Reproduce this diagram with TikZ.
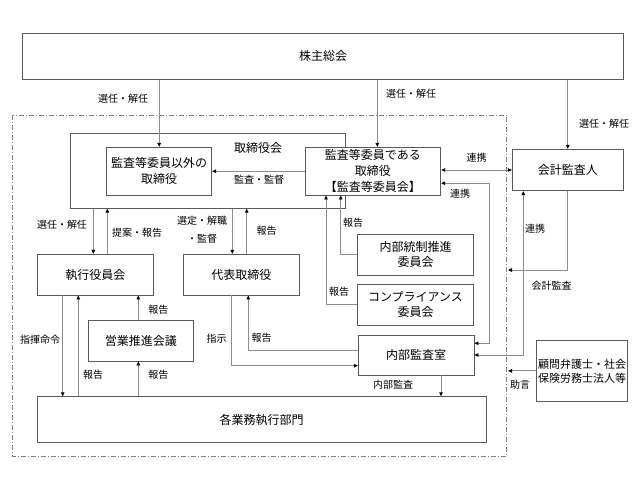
\documentclass[tikz,border=0pt]{standalone}
\usepackage{fontspec}
\setmainfont{Noto Sans CJK JP}
\usepackage{tikz}
\usetikzlibrary{arrows.meta}

\begin{document}
\begin{tikzpicture}[
        x=1pt, y=-1pt,
        box/.style={draw=black!65, line width=0.8pt, fill=white, inner sep=0pt, align=center,
            font=\fontsize{12}{16}\selectfont},
        lbl/.style={inner sep=0pt, font=\fontsize{10}{18}\selectfont, align=center},
        arr/.style={draw=black!45, line width=0.9pt, -{Triangle[length=4pt, width=3.5pt, color=black]}},
        darr/.style={draw=black!45, line width=0.9pt,
            {Triangle[length=4pt, width=3.5pt, color=black]}-{Triangle[length=4pt, width=3.5pt, color=black]}},
    ]
    \useasboundingbox (0,0) rectangle (640,480);

    \draw[black!50, line width=0.7pt, dash pattern=on 5pt off 2pt on 1pt off 2pt]
        (12.7,115) rectangle (506.7,456.7);

    \node[box, minimum width=600.6pt, minimum height=46pt] (sh) at (323,56.3) {株主総会};
    \node[box, minimum width=274.3pt, minimum height=75pt] (board) at (207.9,170.8) {};
    \node[inner sep=0pt, font=\fontsize{12}{16}\selectfont] (boardlbl) at (258,148) {取締役会};
    \node[box, minimum width=105pt, minimum height=47.7pt] (nonaud) at (159.2,171.2) {監査等委員以外の\\取締役};
    \node[box, minimum width=135.7pt, minimum height=47.7pt] (aud) at (372.9,171.2) {監査等委員である\\取締役\\【監査等委員会】};
    \node[box, minimum width=111pt, minimum height=41.4pt] (acc) at (567.8,170) {会計監査人};
    \node[box, minimum width=116pt, minimum height=40.7pt] (exec) at (95.3,274.7) {執行役員会};
    \node[box, minimum width=116pt, minimum height=40.7pt] (rep) at (241.3,274.7) {代表取締役};
    \node[box, minimum width=105pt, minimum height=40.3pt] (sales) at (140.8,340.8) {営業推進会議};
    \node[box, minimum width=115.6pt, minimum height=40.7pt, font=\fontsize{12}{15}\selectfont] (ic) at (415.5,254.7) {内部統制推進\\委員会};
    \node[box, minimum width=115.6pt, minimum height=40.7pt, font=\fontsize{12}{15}\selectfont] (comp) at (415.5,304.7) {コンプライアンス\\委員会};
    \node[box, minimum width=115.7pt, minimum height=40pt] (ia) at (416.2,355) {内部監査室};
    \node[box, minimum width=448.7pt, minimum height=45.6pt] (ops) at (261.7,419.5) {各業務執行部門};
    \node[box, minimum width=90.6pt, minimum height=60.3pt, font=\fontsize{11}{14}\selectfont] (adv) at (582,370.9) {顧問弁護士・社会\\保険労務士法人等};

    \coordinate (bndacc) at (508,270);

    \draw[arr] (sh.south -| nonaud.north) -- (nonaud.north);
    \draw[arr] ([xshift=4.4pt]aud.north |- sh.south) -- ([xshift=4.4pt]aud.north);
    \draw[arr] (sh.south -| acc.north) -- (acc.north);
    \draw[arr] (aud.west) -- (nonaud.east);
    \draw[darr] (aud.east |- acc.west) -- (acc.west);
    \draw[darr] ([yshift=-12pt]aud.east) -- ++(48.6,0) |- ([yshift=11.7pt]ia.east);
    \draw[darr] ([xshift=-44.5pt]acc.south) |- (ia.east);
    \draw[arr] (acc.south) |- (bndacc);
    \draw[arr] (adv.west) -- (adv.west -| bndacc);

    \draw[arr] ([xshift=-2pt]exec.north |- board.south) -- ([xshift=-2pt]exec.north);
    \draw[arr] ([xshift=12pt]exec.north) -- ([xshift=12pt]exec.north |- board.south);
    \draw[arr] ([xshift=-9pt]rep.north |- board.south) -- ([xshift=-9pt]rep.north);
    \draw[arr] ([xshift=5.4pt]rep.north) -- ([xshift=5.4pt]rep.north |- board.south);

    \draw[arr] ([xshift=-32.6pt]exec.south) -- ([xshift=-32.6pt]exec.south |- ops.north);
    \draw[arr] ([xshift=-17pt]exec.south |- ops.north) -- ([xshift=-17pt]exec.south);
    \draw[arr] ([xshift=-2.5pt]sales.north) -- ([xshift=-2.5pt]sales.north |- exec.south);
    \draw[arr] ([xshift=-2.5pt]sales.south |- ops.north) -- ([xshift=-2.5pt]sales.south);

    \draw[arr] ([xshift=-9.6pt]rep.south) |- ([yshift=-10.7pt]ia.west);
    \draw[arr] ([yshift=4.3pt]ia.west) -| ([xshift=7pt]rep.south);
    \draw[arr] (ic.west) -| ([xshift=-32.2pt]aud.south);
    \draw[arr] (comp.west) -| ([xshift=-46.9pt]aud.south);
    \draw[arr] ([xshift=24.8pt]ia.south) -- ([xshift=24.8pt]ia.south |- ops.north);

    \node[lbl] (l1) at (123,99) {選任・解任};
    \node[lbl] (l2) at (411,94) {選任・解任};
    \node[lbl] (l3) at (604,124) {選任・解任};
    \node[lbl] (l4) at (259,180) {監査・監督};
    \node[lbl] (l5) at (476.7,158) {連携};
    \node[lbl] (l6) at (460,194) {連携};
    \node[lbl] (l7) at (535,229) {連携};
    \node[lbl] (l8) at (551.7,286) {会計監査};
    \node[lbl] (l9) at (520,385) {助言};
    \node[lbl] (l10) at (62,225) {選任・解任};
    \node[lbl] (l11) at (137,233) {提案・報告};
    \node[lbl] (l12) at (202,230) {選定・解職\\・監督};
    \node[lbl] (l13) at (266.7,230.7) {報告};
    \node[lbl] (l14) at (40,340) {指揮命令};
    \node[lbl] (l15) at (93,375) {報告};
    \node[lbl] (l16) at (158.3,310) {報告};
    \node[lbl] (l17) at (158.3,375) {報告};
    \node[lbl] (l18) at (216.7,338.3) {指示};
    \node[lbl] (l19) at (261.7,337.7) {報告};
    \node[lbl] (l20) at (353,223) {報告};
    \node[lbl] (l21) at (339,291.7) {報告};
    \node[lbl] (l22) at (393,385) {内部監査};
\end{tikzpicture}
\end{document}
